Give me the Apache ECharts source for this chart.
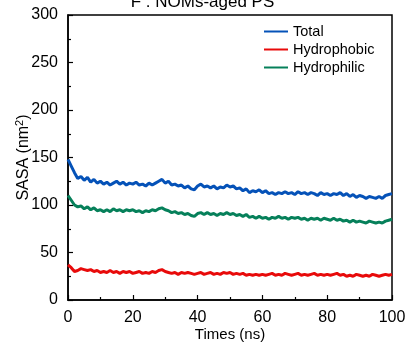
<!DOCTYPE html>
<html>
<head>
<meta charset="utf-8">
<script src="https://cdn.jsdelivr.net/npm/echarts@6/dist/echarts.min.js"></script>
<style>
  html, body { margin: 0; padding: 0; background: #fff; }
  #chart { width: 405px; height: 345px; }
</style>
</head>
<body>
<div id="chart"></div>
<script>
  // time points (ns)
  var times = [0,1,2,3,4,5,6,7,8,9,10,11,12,13,14,15,16,17,18,19,20,21,22,23,24,25,26,27,28,29,30,31,32,33,34,35,36,37,38,39,40,41,42,43,44,45,46,47,48,49,50,51,52,53,54,55,56,57,58,59,60,61,62,63,64,65,66,67,68,69,70,71,72,73,74,75,76,77,78,79,80,81,82,83,84,85,86,87,88,89,90,91,92,93,94,95,96,97,98,99,100];

  var total = [148,141,134,128,130,126,129,124,127,123,125,122,124,121,123,125,122,124,121,123,122,124,121,122,120,123,121,123,125,127,123,125,121,122,120,121,118,120,117,116,120,122,119,120,118,120,117,119,118,121,119,120,117,118,115,117,113,115,114,116,113,115,112,113,111,113,112,114,112,113,111,114,112,113,111,113,112,110,113,111,112,110,112,111,113,110,112,109,111,108,110,109,107,109,108,107,109,107,110,111,112];

  var hydrophobic = [37,34,30,31,33,32,31,32,30,31,29,30,29,31,29,30,28,30,29,30,28,29,30,28,29,28,30,29,31,32,30,29,28,29,27,29,28,29,28,27,28,29,27,28,29,27,28,27,29,28,29,27,28,27,28,26,27,26,27,26,27,26,27,28,26,27,26,28,27,26,27,28,26,27,26,27,28,26,27,26,27,26,27,28,26,27,25,26,25,27,26,25,26,25,27,26,25,26,27,26,27];

  var hydrophilic = [110,105,100,98,99,96,98,95,97,94,95,93,95,93,96,94,95,93,95,94,95,93,94,92,94,93,95,94,96,97,95,94,92,93,91,92,90,91,89,88,91,92,90,92,90,91,89,91,90,92,90,91,89,90,88,90,87,88,86,88,86,87,85,87,86,88,86,87,85,87,86,87,85,86,84,86,85,86,84,86,85,84,86,84,85,83,84,82,84,82,83,82,81,83,82,81,82,81,83,84,85];

  var seriesNames = ['Total', 'Hydrophobic', 'Hydrophilic'];
  var seriesColors = ['#0552b8', '#e80a0a', '#06805a'];

  function pairs(vals) {
    return times.map(function (t, i) { return [t, vals[i]]; });
  }

  var chart = echarts.init(document.getElementById('chart'));
  var fontFam = 'Liberation Sans, Arial, sans-serif';

  var option = {
    animation: false,
    title: {
      text: 'F : NOMs-aged PS',
      left: 'center',
      top: -11,
      textStyle: { fontSize: 17, fontWeight: 'normal', color: '#000', fontFamily: fontFam }
    },
    legend: {
      data: seriesNames,
      orient: 'vertical',
      left: 259,
      top: 19,
      icon: 'rect',
      itemWidth: 24,
      itemHeight: 2,
      itemGap: 3,
      textStyle: { fontSize: 14.5, color: '#000', fontFamily: fontFam }
    },
    grid: {
      left: 68, right: 13, top: 15, bottom: 45,
      outerBoundsMode: 'none',
      show: true, borderColor: '#000', borderWidth: 1.5, backgroundColor: 'transparent'
    },
    xAxis: {
      type: 'value',
      min: 0, max: 100, interval: 20,
      name: 'Times (ns)',
      nameLocation: 'middle',
      nameGap: 27,
      nameMoveOverlap: false,
      nameTextStyle: { fontSize: 15, color: '#000', fontFamily: fontFam },
      axisLine: { lineStyle: { color: '#000', width: 1.5 } },
      axisTick: { inside: true, length: 5, lineStyle: { color: '#000', width: 1.2 } },
      minorTick: { show: true, splitNumber: 2, length: 3, lineStyle: { color: '#000', width: 1.2 } },
      axisLabel: { fontSize: 16, color: '#000', margin: 10, fontFamily: fontFam },
      splitLine: { show: false }
    },
    yAxis: {
      type: 'value',
      min: 0, max: 300, interval: 50,
      name: 'SASA (nm{sup|2})',
      nameLocation: 'middle',
      nameGap: 35,
      nameMoveOverlap: false,
      nameRotate: 90,
      nameTextStyle: {
        fontSize: 16, color: '#000', fontFamily: fontFam,
        rich: { sup: { fontSize: 11, color: '#000', fontFamily: fontFam, padding: [0, 0, 8, 0] } }
      },
      axisLine: { show: true, lineStyle: { color: '#000', width: 1.5 } },
      axisTick: { show: true, inside: true, length: 5, lineStyle: { color: '#000', width: 1.2 } },
      minorTick: { show: true, splitNumber: 2, length: 3, lineStyle: { color: '#000', width: 1.2 } },
      axisLabel: { fontSize: 16, color: '#000', margin: 10, fontFamily: fontFam },
      splitLine: { show: false }
    },
    series: [
      { name: seriesNames[0], type: 'line', data: pairs(total), symbol: 'none',
        itemStyle: { color: seriesColors[0] }, lineStyle: { color: seriesColors[0], width: 3 } },
      { name: seriesNames[1], type: 'line', data: pairs(hydrophobic), symbol: 'none',
        itemStyle: { color: seriesColors[1] }, lineStyle: { color: seriesColors[1], width: 3 } },
      { name: seriesNames[2], type: 'line', data: pairs(hydrophilic), symbol: 'none',
        itemStyle: { color: seriesColors[2] }, lineStyle: { color: seriesColors[2], width: 3 } }
    ]
  };
  chart.setOption(option);
</script>
</body>
</html>
